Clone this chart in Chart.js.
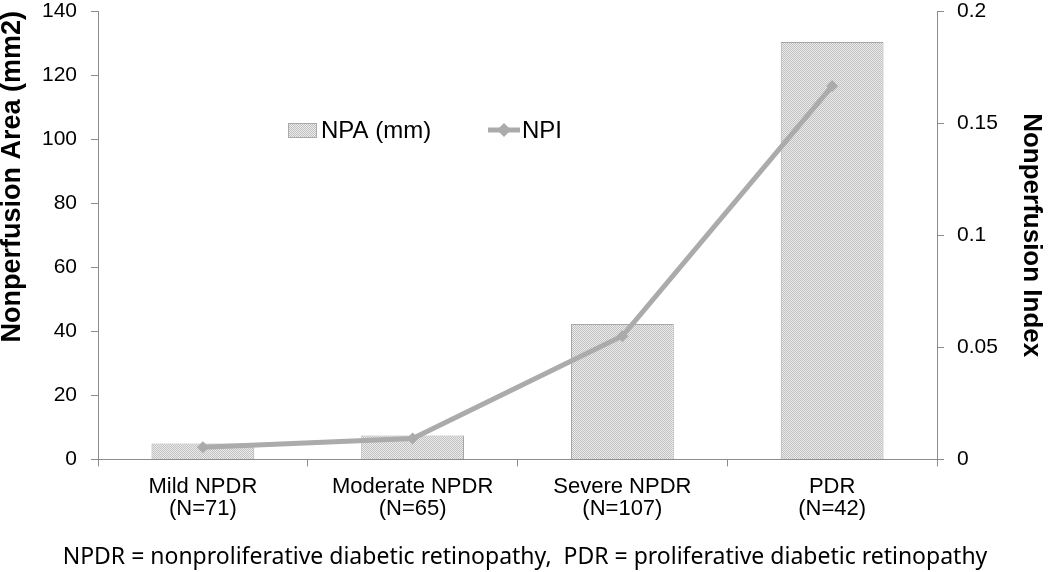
<!DOCTYPE html>
<html>
<head>
<script src="https://cdn.jsdelivr.net/npm/chart.js"></script>
<style>
  body { margin: 0; background: #fff; }
  #wrap { width: 1050px; height: 572px; position: relative; }
</style>
</head>
<body>
<div id="wrap"><canvas id="chart" width="1050" height="572"></canvas></div>
<script>
// data
const categories = [['Mild NPDR', '(N=71)'], ['Moderate NPDR', '(N=65)'], ['Severe NPDR', '(N=107)'], ['PDR', '(N=42)']];
const npaValues = [5, 7.5, 42.3, 130.3];
const npiValues = [0.0054, 0.0093, 0.055, 0.1665];
const footNote = 'NPDR = nonproliferative diabetic retinopathy,  PDR = proliferative diabetic retinopathy';

// checkered fill like the office "dotted grid" pattern
function makePattern() {
    const c = document.createElement('canvas');
    c.width = 4; c.height = 4;
    const g = c.getContext('2d');
    g.fillStyle = '#ececec';
    g.fillRect(0, 0, 4, 4);
    g.fillStyle = '#c0c0c0';
    g.fillRect(0, 0, 1, 1); g.fillRect(2, 0, 1, 1);
    g.fillRect(1, 1, 1, 1); g.fillRect(3, 1, 1, 1);
    g.fillRect(0, 2, 1, 1); g.fillRect(2, 2, 1, 1);
    g.fillRect(1, 3, 1, 1); g.fillRect(3, 3, 1, 1);
    return g.createPattern(c, 'repeat');
}
const barFill = makePattern();
const lineColor = '#ababab';
const axisColor = '#8c8c8c';

// legend drawn inside the plot, like the original
const innerLegend = {
    id: 'innerLegend',
    afterDraw(chart) {
        const ctx = chart.ctx;
        ctx.save();
        ctx.font = '24px "Liberation Sans", Arial, sans-serif';
        ctx.textBaseline = 'middle';
        const y = 130;
        // bar swatch
        ctx.fillStyle = barFill;
        ctx.fillRect(288, y - 7, 28, 14);
        ctx.strokeStyle = '#aaa';
        ctx.lineWidth = 1;
        ctx.strokeRect(288.5, y - 6.5, 28, 14);
        ctx.fillStyle = '#000';
        ctx.fillText('NPA (mm)', 321, y + 1);
        // line swatch
        ctx.strokeStyle = lineColor;
        ctx.lineWidth = 5;
        ctx.beginPath();
        ctx.moveTo(488, y); ctx.lineTo(520, y);
        ctx.stroke();
        ctx.fillStyle = lineColor;
        ctx.beginPath();
        ctx.moveTo(504, y - 7); ctx.lineTo(511, y); ctx.lineTo(504, y + 7); ctx.lineTo(497, y);
        ctx.closePath(); ctx.fill();
        ctx.fillStyle = '#000';
        ctx.fillText('NPI', 522, y + 1);
        ctx.restore();
    }
};

const fam = '"Liberation Sans", Arial, sans-serif';

// keep the plot top close to the first tick label, like the original
function tightY(width) {
    return function (s) {
        s.width = width;
        s.paddingTop = 11;
        s.paddingBottom = 0;
    };
}

new Chart(document.getElementById('chart'), {
    data: {
        labels: categories,
        datasets: [
            {
                type: 'line',
                label: 'NPI',
                data: npiValues,
                yAxisID: 'y2',
                borderColor: lineColor,
                backgroundColor: lineColor,
                borderWidth: 5,
                pointStyle: 'rectRot',
                pointRadius: 6,
                pointBorderWidth: 0,
                tension: 0,
                order: 0
            },
            {
                type: 'bar',
                label: 'NPA (mm)',
                data: npaValues,
                yAxisID: 'y',
                backgroundColor: barFill,
                borderColor: '#a6a6a6',
                borderWidth: 1,
                barPercentage: 0.49,
                categoryPercentage: 1,
                order: 1
            }
        ]
    },
    options: {
        responsive: false,
        animation: false,
        layout: { padding: { top: 0, bottom: 0 } },
        plugins: {
            legend: { display: false },
            tooltip: { enabled: false },
            title: {
                display: true,
                position: 'bottom',
                text: footNote,
                color: '#000',
                font: { family: '"Noto Sans", sans-serif', size: 23, weight: 'normal', lineHeight: 1.2 },
                padding: { top: 0, bottom: 1 }
            }
        },
        scales: {
            x: {
                offset: true,
                grid: { offset: true, drawOnChartArea: false, color: axisColor, tickLength: 7 },
                border: { color: axisColor },
                ticks: { color: '#000', font: { family: fam, size: 22, lineHeight: 1.0 }, padding: 10, maxRotation: 0 },
                afterFit(s) { s.height = 84; }
            },
            y: {
                position: 'left',
                min: 0, max: 140,
                ticks: { stepSize: 20, color: '#000', font: { family: fam, size: 21 }, padding: 14 },
                grid: { drawOnChartArea: false, color: axisColor, tickLength: 7 },
                border: { color: axisColor },
                title: { display: true, text: 'Nonperfusion Area (mm2)', color: '#000', align: 'end',
                    font: { family: fam, size: 27, weight: 'bold', lineHeight: 0.9 }, padding: 0 },
                afterFit: tightY(98)
            },
            y2: {
                position: 'right',
                min: 0, max: 0.2,
                ticks: { stepSize: 0.05, color: '#000', font: { family: fam, size: 21 }, padding: 13,
                    callback: v => String(Math.round(v * 100) / 100) },
                grid: { drawOnChartArea: false, color: axisColor, tickLength: 7 },
                border: { color: axisColor },
                title: { display: true, text: 'Nonperfusion Index', color: '#000',
                    font: { family: fam, size: 26, weight: 'bold', lineHeight: 1.0 }, padding: 6 },
                afterFit: tightY(113)
            }
        }
    },
    plugins: [innerLegend]
});
</script>
</body>
</html>
